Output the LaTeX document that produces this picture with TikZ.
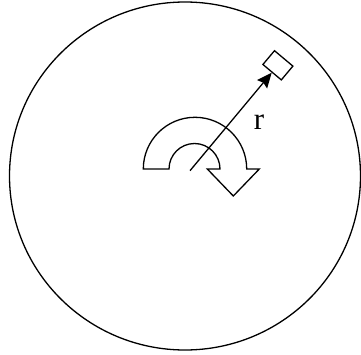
\documentclass[tikz,border=0pt]{standalone}
\usepackage{fontspec}
\setmainfont{Liberation Serif}
\usetikzlibrary{arrows.meta}
\begin{document}
\begin{tikzpicture}[x=1pt,y=1pt,line width=1.3pt,
  probe/.style={draw,rectangle,minimum width=24pt,minimum height=18pt,inner sep=0pt,rotate=-40},
  lbl/.style={font=\fontsize{31}{33}\selectfont,inner sep=0pt}]
\useasboundingbox (0,0) rectangle (361,354);
% disc
\draw (185,178) ellipse [x radius=175.5, y radius=174];
% rotation arrow
\draw[line join=miter] (143.3,185) arc[start angle=180,end angle=0,radius=51.7]
  -- (259.3,185) -- (233.3,158) -- (207.3,185) -- (220,185)
  arc[start angle=0,end angle=180,radius=25.5] -- cycle;
% centre and probe
\coordinate (c) at (190,183.3);
\node[probe] (sq) at (277.9,288.7) {};
\draw[-{Stealth[length=15pt,width=13pt,inset=2pt]}] (c) -- (sq.south);
\node[lbl] (r) at (259,232) {r};
\end{tikzpicture}
\end{document}
